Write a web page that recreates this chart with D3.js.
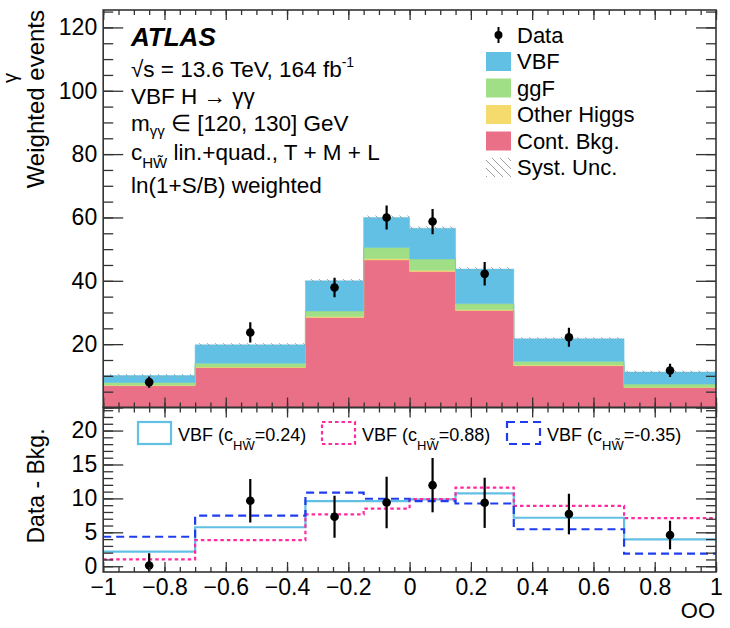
<!DOCTYPE html>
<html>
<head>
<meta charset="utf-8">
<script src="https://cdn.jsdelivr.net/npm/d3@7"></script>
<style>
  body { margin: 0; background: #fff; }
  svg { display: block; font-family: "Liberation Sans", Arial, Helvetica, sans-serif; }
</style>
</head>
<body>
<div id="chart"></div>
<script>
// bins of the OO observable
const binEdges = [-1, -0.7, -0.34, -0.15, 0, 0.15, 0.34, 0.7, 1];

// stacked prediction (weighted events)
const contBkg = [6.9, 12.6, 28.4, 46.6, 42.9, 30.6, 13.2, 6.3];
const otherHiggs = [0.15, 0.2, 0.3, 0.4, 0.4, 0.3, 0.2, 0.1];
const ggF = [0.85, 1.2, 1.8, 3.5, 3.6, 1.9, 1.2, 1.0];
const vbf = [2.2, 5.8, 9.5, 9.5, 9.7, 10.9, 7.1, 3.8];
const systUnc = [0.9, 1.0, 1.1, 1.2, 1.2, 1.1, 1.0, 0.9];

// data
const dataTop = [8.0, 23.7, 37.9, 60.0, 58.7, 42.2, 22.2, 11.7];
const dataErr = [1.8, 3.2, 3.1, 3.8, 4.0, 3.7, 3.0, 2.1];
const dataSub = [0.1, 9.65, 7.3, 9.4, 11.95, 9.35, 7.7, 4.6];

// lower panel: VBF for different c_HWtilde
const vbf024 = [2.15, 5.75, 9.6, 9.6, 9.85, 10.75, 7.15, 3.95];
const vbf088 = [1.0, 3.85, 7.65, 8.5, 9.9, 11.6, 8.9, 7.1];
const vbfm035 = [4.35, 7.45, 10.85, 9.95, 9.6, 9.25, 5.45, 1.85];

// ticks
const xMajor = [-1, -0.8, -0.6, -0.4, -0.2, 0, 0.2, 0.4, 0.6, 0.8, 1];
const yTopLabels = [20, 40, 60, 80, 100, 120];
const yBotLabels = [0, 5, 10, 15, 20];

const legendTop = ["Data", "VBF", "ggF", "Other Higgs", "Cont. Bkg.", "Syst. Unc."];
const legendBot = ["=0.24)", "=0.88)", "=-0.35)"];

const width = 730, height = 628;
const frameL = 103.2, frameR = 716;
const topY0 = 10, topY1 = 407.5, botY1 = 572;

const colors = {
  contBkg: "#ea7088",
  otherHiggs: "#f5db6e",
  ggF: "#a0df86",
  vbf: "#62c0e5"
};
const lineColors = ["#62c0e5", "#ff2aa0", "#1f3cf0"];
const lineDash = [null, "3.5,3", "8,5"];

const x = d3.scaleLinear().domain([-1, 1]).range([frameL, frameR]);
const yTop = d3.scaleLinear().domain([0, 125.5]).range([topY1, topY0]);
const yBot = d3.scaleLinear().domain([-0.85, 23.4]).range([botY1, topY1]);

const svg = d3.select("#chart").append("svg")
  .attr("width", width)
  .attr("height", height)
  .attr("viewBox", [0, 0, width, height]);

const defs = svg.append("defs");
const hatch = defs.append("pattern")
  .attr("id", "hatch")
  .attr("patternUnits", "userSpaceOnUse")
  .attr("width", 8).attr("height", 8);
hatch.append("path")
  .attr("d", "M0,0L8,8M-1,7L1,9M7,-1L9,1")
  .attr("stroke", "#a0a0a0").attr("stroke-width", 1);

defs.append("clipPath").attr("id", "clipTop")
  .append("rect").attr("x", frameL).attr("y", topY0)
  .attr("width", frameR - frameL).attr("height", topY1 - topY0);
defs.append("clipPath").attr("id", "clipBot")
  .append("rect").attr("x", frameL).attr("y", topY1)
  .attr("width", frameR - frameL).attr("height", botY1 - topY1);

// rows per bin
const rows = contBkg.map((v, i) => ({
  lo: binEdges[i], hi: binEdges[i + 1],
  contBkg: v, otherHiggs: otherHiggs[i], ggF: ggF[i], vbf: vbf[i]
}));
const keys = ["contBkg", "otherHiggs", "ggF", "vbf"];
const stacked = d3.stack().keys(keys)(rows);

const area = d3.area()
  .x(d => x(d[0]))
  .y0(d => yTop(d[1]))
  .y1(d => yTop(d[2]));

const gTop = svg.append("g").attr("clip-path", "url(#clipTop)");

for (const layer of stacked) {
  const pts = layer.flatMap((d, i) => [[rows[i].lo, d[0], d[1]], [rows[i].hi, d[0], d[1]]]);
  gTop.append("path")
    .attr("d", area(pts))
    .attr("fill", colors[layer.key])
    .attr("stroke", colors[layer.key])
    .attr("stroke-width", 0.5);
}

// syst. band (hatched)
const totals = stacked[stacked.length - 1].map(d => d[1]);
gTop.selectAll("rect.syst")
  .data(rows)
  .join("rect")
  .attr("class", "syst")
  .attr("x", d => x(d.lo))
  .attr("width", d => x(d.hi) - x(d.lo))
  .attr("y", (d, i) => yTop(totals[i] + systUnc[i] / 2))
  .attr("height", (d, i) => yTop(totals[i] - systUnc[i] / 2) - yTop(totals[i] + systUnc[i] / 2))
  .attr("fill", "url(#hatch)");

// data points
function drawData(g, values, errs, y) {
  rows.forEach((r, i) => {
    const cx = x((r.lo + r.hi) / 2);
    g.append("line")
      .attr("x1", cx).attr("x2", cx)
      .attr("y1", y(values[i] - errs[i])).attr("y2", y(values[i] + errs[i]))
      .attr("stroke", "#000").attr("stroke-width", 2.2);
    g.append("circle")
      .attr("cx", cx).attr("cy", y(values[i]))
      .attr("r", 4.3).attr("fill", "#000");
  });
}
drawData(gTop, dataTop, dataErr, yTop);

// lower panel step lines
const gBot = svg.append("g").attr("clip-path", "url(#clipBot)");
const stepLine = d3.line().x(d => x(d[0])).y(d => yBot(d[1]));
[vbf024, vbf088, vbfm035].forEach((vals, k) => {
  const pts = vals.flatMap((v, i) => [[binEdges[i], v], [binEdges[i + 1], v]]);
  gBot.append("path")
    .attr("d", stepLine(pts))
    .attr("fill", "none")
    .attr("stroke", lineColors[k])
    .attr("stroke-width", 2.2)
    .attr("stroke-dasharray", lineDash[k]);
});
drawData(gBot, dataSub, dataErr, yBot);

// axes (ROOT style: ticks inside, on all four sides)
const fmt = d => d3.format("~g")(d);
const xMinor = d3.range(-1, 1.0001, 0.05);

function frameAxes(y0, y1, yScale, yMajor, yMinor, yMajorLabels, showX) {
  const g = svg.append("g").attr("class", "axes");
  // left
  g.append("g").attr("transform", `translate(${frameL},0)`)
    .call(d3.axisLeft(yScale).tickValues(yMinor).tickSize(-10).tickFormat(""));
  g.append("g").attr("transform", `translate(${frameL},0)`)
    .call(d3.axisLeft(yScale).tickValues(yMajor).tickSize(-20).tickPadding(6)
      .tickFormat(d => yMajorLabels.includes(d) ? fmt(d) : ""));
  // right
  g.append("g").attr("transform", `translate(${frameR},0)`)
    .call(d3.axisRight(yScale).tickValues(yMinor).tickSize(-10).tickFormat(""));
  g.append("g").attr("transform", `translate(${frameR},0)`)
    .call(d3.axisRight(yScale).tickValues(yMajor).tickSize(-20).tickFormat(""));
  // top
  g.append("g").attr("transform", `translate(0,${y0})`)
    .call(d3.axisTop(x).tickValues(xMinor).tickSize(-5).tickFormat(""));
  g.append("g").attr("transform", `translate(0,${y0})`)
    .call(d3.axisTop(x).tickValues(xMajor).tickSize(-10).tickFormat(""));
  // bottom
  g.append("g").attr("transform", `translate(0,${y1})`)
    .call(d3.axisBottom(x).tickValues(xMinor).tickSize(-5).tickFormat(""));
  g.append("g").attr("transform", `translate(0,${y1})`)
    .call(d3.axisBottom(x).tickValues(xMajor).tickSize(-10).tickPadding(7)
      .tickFormat(showX ? fmt : ""));
  g.selectAll(".domain").remove();
  g.selectAll(".tick line").attr("stroke", "#333").attr("stroke-width", 1.3);
  g.selectAll(".tick text").attr("font-size", 23).attr("fill", "#000")
    .attr("font-family", "Liberation Sans, Arial, sans-serif");
  g.append("rect")
    .attr("x", frameL).attr("y", y0)
    .attr("width", frameR - frameL).attr("height", y1 - y0)
    .attr("fill", "none").attr("stroke", "#333").attr("stroke-width", 1.6);
}

frameAxes(topY0, topY1, yTop, d3.range(0, 126, 20), d3.range(0, 126, 5), yTopLabels, false);
frameAxes(topY1, botY1, yBot, d3.range(0, 24, 5), d3.range(0, 24, 1), yBotLabels, true);

// axis titles
svg.append("text")
  .attr("transform", "translate(44,10) rotate(-90)")
  .attr("text-anchor", "end")
  .attr("font-size", 24)
  .text("Weighted events");
svg.append("text")
  .attr("transform", "translate(44,486) rotate(-90)")
  .attr("text-anchor", "middle")
  .attr("font-size", 23)
  .text("Data - Bkg.");
svg.append("text")
  .attr("transform", "translate(17,78) rotate(-90)")
  .attr("text-anchor", "middle")
  .attr("font-size", 20)
  .text("γ");
svg.append("text")
  .attr("x", 715).attr("y", 618)
  .attr("text-anchor", "end")
  .attr("font-size", 22)
  .text("OO");

// ATLAS label block
const tx = 131;
svg.append("text")
  .attr("x", tx).attr("y", 46)
  .attr("font-size", 26).attr("font-weight", "bold").attr("font-style", "italic")
  .text("ATLAS");

const info = svg.append("g").attr("font-size", 22.5);
let t = info.append("text").attr("x", tx).attr("y", 77);
t.append("tspan").text("√s = 13.6 TeV, 164 fb");
t.append("tspan").attr("font-size", 14).attr("dy", -10).text("-1");

info.append("text").attr("x", tx).attr("y", 104).text("VBF H → γγ");

t = info.append("text").attr("x", tx).attr("y", 131);
t.append("tspan").text("m");
t.append("tspan").attr("font-size", 15).attr("dy", 5).text("γγ");
t.append("tspan").attr("dy", -5).text(" ∈ [120, 130] GeV");

t = info.append("text").attr("x", tx).attr("y", 160);
t.append("tspan").text("c");
t.append("tspan").attr("font-size", 15).attr("dy", 8).text("HW\u0303");
t.append("tspan").attr("dy", -8).text(" lin.+quad., T + M + L");

info.append("text").attr("x", tx).attr("y", 193).text("ln(1+S/B) weighted");

// top legend
const leg = svg.append("g").attr("transform", "translate(486,0)");
legendTop.forEach((name, i) => {
  const cy = 35 + i * 26.5;
  if (i === 0) {
    leg.append("line").attr("x1", 12.5).attr("x2", 12.5)
      .attr("y1", cy - 8).attr("y2", cy + 8)
      .attr("stroke", "#000").attr("stroke-width", 2);
    leg.append("circle").attr("cx", 12.5).attr("cy", cy).attr("r", 4).attr("fill", "#000");
  } else {
    const fill = i === 5 ? "url(#hatch)" : colors[keys[4 - i]];
    leg.append("rect")
      .attr("x", 0).attr("y", cy - 9.5)
      .attr("width", 25).attr("height", 19)
      .attr("fill", fill);
  }
  leg.append("text")
    .attr("x", 31).attr("y", cy)
    .attr("dy", "0.35em")
    .attr("font-size", 22)
    .text(name);
});

// bottom legend
const boxX = [138, 322, 507];
legendBot.forEach((tail, k) => {
  svg.append("rect")
    .attr("x", boxX[k]).attr("y", 422)
    .attr("width", 33).attr("height", 22)
    .attr("fill", "none")
    .attr("stroke", lineColors[k])
    .attr("stroke-width", 2.2)
    .attr("stroke-dasharray", lineDash[k]);
  const lt = svg.append("text")
    .attr("x", boxX[k] + 40).attr("y", 441)
    .attr("font-size", 18);
  lt.append("tspan").text("VBF (c");
  lt.append("tspan").attr("font-size", 13).attr("dy", 9).text("HW\u0303");
  lt.append("tspan").attr("dy", -9).text(tail);
});
</script>
</body>
</html>
